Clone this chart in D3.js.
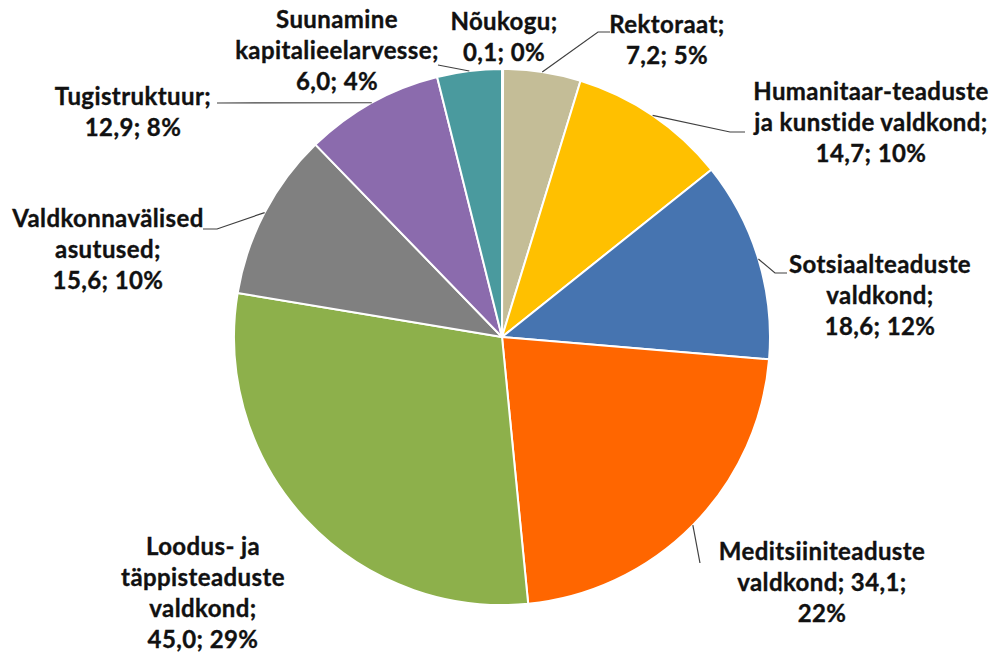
<!DOCTYPE html>
<html>
<head>
<meta charset="utf-8">
<script src="https://cdn.jsdelivr.net/npm/d3@7"></script>
<style>
  html, body { margin: 0; padding: 0; background: #fff; }
  svg { display: block; }
  text { font-family: Lato, "Open Sans", sans-serif; font-weight: bold; fill: #111; stroke: #111; stroke-width: 0.35; letter-spacing: 0.4px; }
</style>
</head>
<body>
<svg id="chart" width="995" height="659"></svg>
<script>
// ---- data ----
const categories = [
  "Nõukogu", "Rektoraat", "Humanitaar-teaduste ja kunstide valdkond",
  "Sotsiaalteaduste valdkond", "Meditsiiniteaduste valdkond",
  "Loodus- ja täppisteaduste valdkond", "Valdkonnavälised asutused",
  "Tugistruktuur", "Suunamine kapitalieelarvesse"
];
const values = [0.1, 7.2, 14.7, 18.6, 34.1, 45.0, 15.6, 12.9, 6.0];
const percentLabels = ["0%", "5%", "10%", "12%", "22%", "29%", "10%", "8%", "4%"];
const labelLines = [
  ["Nõukogu;", "0,1; 0%"],
  ["Rektoraat;", "7,2; 5%"],
  ["Humanitaar-teaduste", "ja kunstide valdkond;", "14,7; 10%"],
  ["Sotsiaalteaduste", "valdkond;", "18,6; 12%"],
  ["Meditsiiniteaduste", "valdkond; 34,1;", "22%"],
  ["Loodus- ja", "täppisteaduste", "valdkond;", "45,0; 29%"],
  ["Valdkonnavälised", "asutused;", "15,6; 10%"],
  ["Tugistruktuur;", "12,9; 8%"],
  ["Suunamine", "kapitalieelarvesse;", "6,0; 4%"]
];
const sliceColors = ["#C4BD97", "#C4BD97", "#FFC000", "#4674B0", "#FF6600", "#8DB04B", "#808080", "#8B6BAD", "#4A9A9E"];

// ---- layout (positions only) ----
const cx = 502, cy = 337, R = 268;
// label: center x, first baseline y
const labelPos = [
  [504, 30], [667, 33], [871, 100], [880, 273], [822, 560],
  [203, 555], [108, 227], [133, 105], [337, 28]
];
const lineGap = 31;
// leader line end points (after pie edge)
const leaderEnds = [
  null,
  [[598, 32], [610, 32]],
  [[730, 132], [745, 132]],
  [[775, 273], [787, 273]],
  [[700, 563]],
  null,
  [[217, 229], [203, 229]],
  [[217, 103]],
  [[438, 65]]
];

const svg = d3.select("#chart");
const g = svg.append("g").attr("transform", `translate(${cx},${cy})`);

const pie = d3.pie().sort(null).value(d => d);
const arcs = pie(values);
const arc = d3.arc().innerRadius(0).outerRadius(R);

g.selectAll("path.slice")
  .data(arcs)
  .join("path")
  .attr("class", "slice")
  .attr("d", arc)
  .attr("fill", (d, i) => sliceColors[i])
  .attr("stroke", "#fff")
  .attr("stroke-width", 2)
  .attr("stroke-linejoin", "round");

// leader lines
arcs.forEach((d, i) => {
  if (!leaderEnds[i]) return;
  const mid = (d.startAngle + d.endAngle) / 2;
  const sx = cx + R * Math.sin(mid), sy = cy - R * Math.cos(mid);
  const pts = [[sx, sy]].concat(leaderEnds[i]);
  svg.append("path")
    .attr("d", d3.line()(pts))
    .attr("fill", "none")
    .attr("stroke", "#404040")
    .attr("stroke-width", 1.2);
});

// labels
labelLines.forEach((lines, i) => {
  const t = svg.append("text")
    .attr("text-anchor", "middle")
    .attr("font-size", 24);
  lines.forEach((ln, j) => {
    t.append("tspan")
      .attr("x", labelPos[i][0])
      .attr("y", labelPos[i][1] + j * lineGap)
      .text(ln);
  });
});
</script>
</body>
</html>
